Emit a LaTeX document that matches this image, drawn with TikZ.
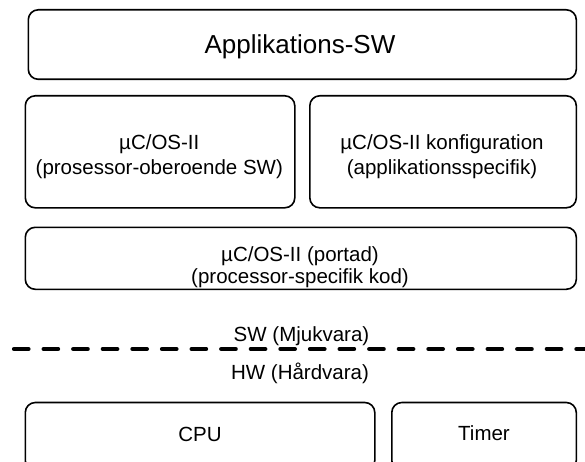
\documentclass[tikz,border=0pt]{standalone}
\usepackage{fontspec}
\setmainfont{Liberation Sans}
\begin{document}
\begin{tikzpicture}[x=1pt,y=-1pt,
  box/.style={draw, line width=1.6pt, rounded corners=10pt, inner sep=0pt, anchor=north west},
  lbl/.style={anchor=base, inner sep=0pt, font=\fontsize{20.5}{24}\selectfont},
  divider/.style={line width=4.2pt, line cap=round, dash pattern=on 14.5pt off 15.1pt}
  ]
\useasboundingbox (0,0) rectangle (585,462);
% boxes
\node[box, minimum width=548pt, minimum height=69.5pt] (app) at (27.5,9) {};
\node[box, minimum width=269.5pt, minimum height=112pt] (core) at (24.5,95) {};
\node[box, minimum width=266.5pt, minimum height=112pt] (conf) at (309,95) {};
\node[box, minimum width=551pt, minimum height=62pt] (port) at (24.5,226.5) {};
\node[box, minimum width=349.5pt, minimum height=68pt] (cpu) at (24.5,401.7) {};
\node[box, minimum width=184.5pt, minimum height=68pt] (timer) at (391,401.7) {};
% texts
\node[lbl, font=\fontsize{26}{30}\selectfont] (tapp) at (300,53.3) {Applikations-SW};
\node[lbl] (t1a) at (159.3,149.3) {µC/OS-II};
\node[lbl] (t1b) at (159.3,175) {(prosessor-oberoende SW)};
\node[lbl] (t2a) at (442,149.3) {µC/OS-II konfiguration};
\node[lbl] (t2b) at (442,175) {(applikationsspecifik)};
\node[lbl] (t3a) at (300,261) {µC/OS-II (portad)};
\node[lbl] (t3b) at (300,283) {(processor-specifik kod)};
\node[lbl] (sw) at (301.5,341.5) {SW (Mjukvara)};
\node[lbl] (hw) at (300,379) {HW (Hårdvara)};
\node[lbl] (tcpu) at (200,441.5) {CPU};
\node[lbl] (ttim) at (484,440.5) {Timer};
% divider
\coordinate (dl) at (14,349);
\coordinate (dr) at (592,349);
\draw[divider] (dl) -- (dr);
\end{tikzpicture}
\end{document}
